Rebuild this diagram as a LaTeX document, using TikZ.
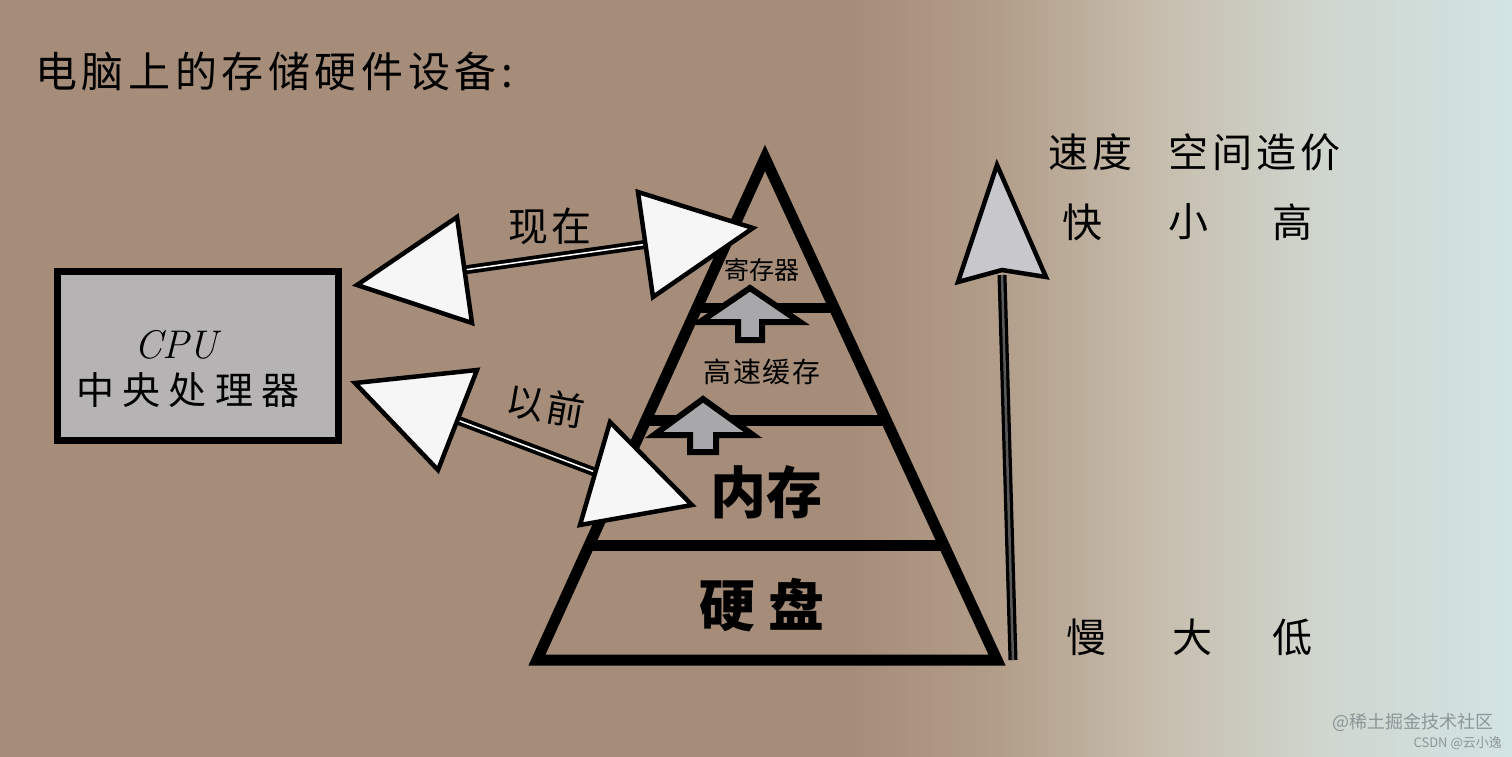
\documentclass[tikz,border=0pt]{standalone}
\usepackage{fontspec}
\newfontfamily\cjk{Noto Sans CJK SC}
\begin{document}
\begin{tikzpicture}[x=1pt,y=-1pt]
\definecolor{bgA}{RGB}{166,141,121}
\definecolor{bgB}{RGB}{178,158,138}
\definecolor{bgC}{RGB}{198,188,172}
\definecolor{bgD}{RGB}{207,214,206}
\definecolor{bgE}{RGB}{210,228,228}
\definecolor{boxgray}{RGB}{181,179,180}
\definecolor{headwhite}{RGB}{246,246,246}
\definecolor{smallgray}{RGB}{168,168,170}
\definecolor{vhead}{RGB}{200,200,204}
\definecolor{wm}{RGB}{140,150,152}
\tikzset{
  txt/.style={inner sep=0pt, font=\cjk},
  pyr/.style={line width=11pt, line join=miter},
  bighead/.style={draw=black, line width=4.5pt, fill=headwhite, line join=miter},
  smallarrow/.style={draw=black, line width=6pt, fill=smallgray, line join=miter},
}
\useasboundingbox (0,0) rectangle (1512,756);
% background
\fill[bgA] (-1,-1) rectangle (851,757);
\shade[left color=bgA, right color=bgB] (850,-1) rectangle (1001,757);
\shade[left color=bgB, right color=bgC] (1000,-1) rectangle (1151,757);
\shade[left color=bgC, right color=bgD] (1150,-1) rectangle (1321,757);
\shade[left color=bgD, right color=bgE] (1320,-1) rectangle (1513,757);

% title
\node[txt, anchor=west, font=\cjk\fontsize{42}{48}\selectfont\addfontfeature{LetterSpace=11}] (title) at (35,72) {电脑上的存储硬件设备:};

% CPU box
\node[draw=black, line width=7pt, fill=boxgray, minimum width=281pt, minimum height=169pt, inner sep=0pt] (cpu) at (197.5,356) {};
\node[inner sep=0pt, font=\fontsize{40}{46}\selectfont\itshape] (cpuname) at (176,345) {CPU};
\node[txt, font=\cjk\fontsize{38}{46}\selectfont\addfontfeature{LetterSpace=22}] (cpucn) at (188,390) {中央处理器};

% pyramid
\coordinate (apex) at (765,158);
\coordinate (bl) at (537,660);
\coordinate (br) at (997,660);
\draw[pyr] (bl) -- (apex) -- (br) -- cycle;
\draw[line width=10pt] (697,308) -- (834,308);
\draw[line width=11pt] (646,420) -- (885,420);
\draw[line width=11pt] (590,545) -- (942,545);

% small up arrows
\draw[smallarrow] (750,288) -- (800,322) -- (762,322) -- (762,340) -- (738,340) -- (738,322) -- (700,322) -- cycle;
\draw[smallarrow] (703,399) -- (753,435) -- (716,435) -- (716,452) -- (690,452) -- (690,435) -- (654,435) -- cycle;

% pyramid labels
\node[txt, font=\cjk\fontsize{25}{28}\selectfont] (reg) at (762,270) {寄存器};
\node[txt, font=\cjk\fontsize{28}{32}\selectfont\addfontfeature{LetterSpace=6}] (cache) at (762,372) {高速缓存};
\node[txt, font=\cjk\bfseries\fontsize{56}{60}\selectfont] (mem) at (766,492) {内存};
\node[txt, font=\cjk\bfseries\fontsize{56}{60}\selectfont\addfontfeature{LetterSpace=22}] (disk) at (762,605) {硬盘};

% arrow "现在"
\coordinate (n1) at (464,270);
\coordinate (n2) at (648,244);
\draw[line width=9pt] (n1) -- (n2);
\draw[line width=1.5pt, white] (n1) -- (n2);
\draw[bighead] (357,285) -- (457,217) -- (472,323) -- cycle;
\draw[bighead] (753,228) -- (638,192) -- (653,297) -- cycle;
\node[txt, font=\cjk\fontsize{40}{44}\selectfont\addfontfeature{LetterSpace=6}] (now) at (550,226) {现在};

% arrow "以前"
\coordinate (p1) at (452,418);
\coordinate (p2) at (600,474);
\draw[line width=9pt] (p1) -- (p2);
\draw[line width=1.5pt, white] (p1) -- (p2);
\draw[bighead] (355,383) -- (477,370) -- (438,470) -- cycle;
\draw[bighead] (692,505) -- (610,422) -- (580,525) -- cycle;
\node[txt, font=\cjk\fontsize{38}{42}\selectfont\addfontfeature{LetterSpace=6}, rotate=-10] (before) at (546,406) {以前};

% vertical arrow
\coordinate (v1) at (1013,660);
\coordinate (v2) at (1002,275);
\draw[line width=9pt] (v1) -- (v2);
\draw[line width=2.5pt, black!65] (v1) -- (v2);
\draw[bighead, fill=vhead] (997,165) -- (1046,277) -- (1002,270) -- (958,282) -- cycle;

% right labels
\node[txt, font=\cjk\fontsize{40}{44}\selectfont\addfontfeature{LetterSpace=10}] (h1) at (1090,152) {速度};
\node[txt, font=\cjk\fontsize{40}{44}\selectfont\addfontfeature{LetterSpace=10}] (h2) at (1254,152) {空间造价};
\node[txt, font=\cjk\fontsize{40}{44}\selectfont] (fast) at (1082,222) {快};
\node[txt, font=\cjk\fontsize{40}{44}\selectfont] (small) at (1188,222) {小};
\node[txt, font=\cjk\fontsize{40}{44}\selectfont] (high) at (1292,222) {高};
\node[txt, font=\cjk\fontsize{40}{44}\selectfont] (slow) at (1086,637) {慢};
\node[txt, font=\cjk\fontsize{40}{44}\selectfont] (big) at (1192,637) {大};
\node[txt, font=\cjk\fontsize{40}{44}\selectfont] (low) at (1292,637) {低};

% watermark
\node[txt, text=wm, font=\cjk\fontsize{18}{20}\selectfont, anchor=east] (wm1) at (1494,722) {@稀土掘金技术社区};
\node[txt, text=wm, font=\cjk\fontsize{13}{15}\selectfont, anchor=east] (wm2) at (1502,743) {CSDN @云小逸};
\end{tikzpicture}
\end{document}
